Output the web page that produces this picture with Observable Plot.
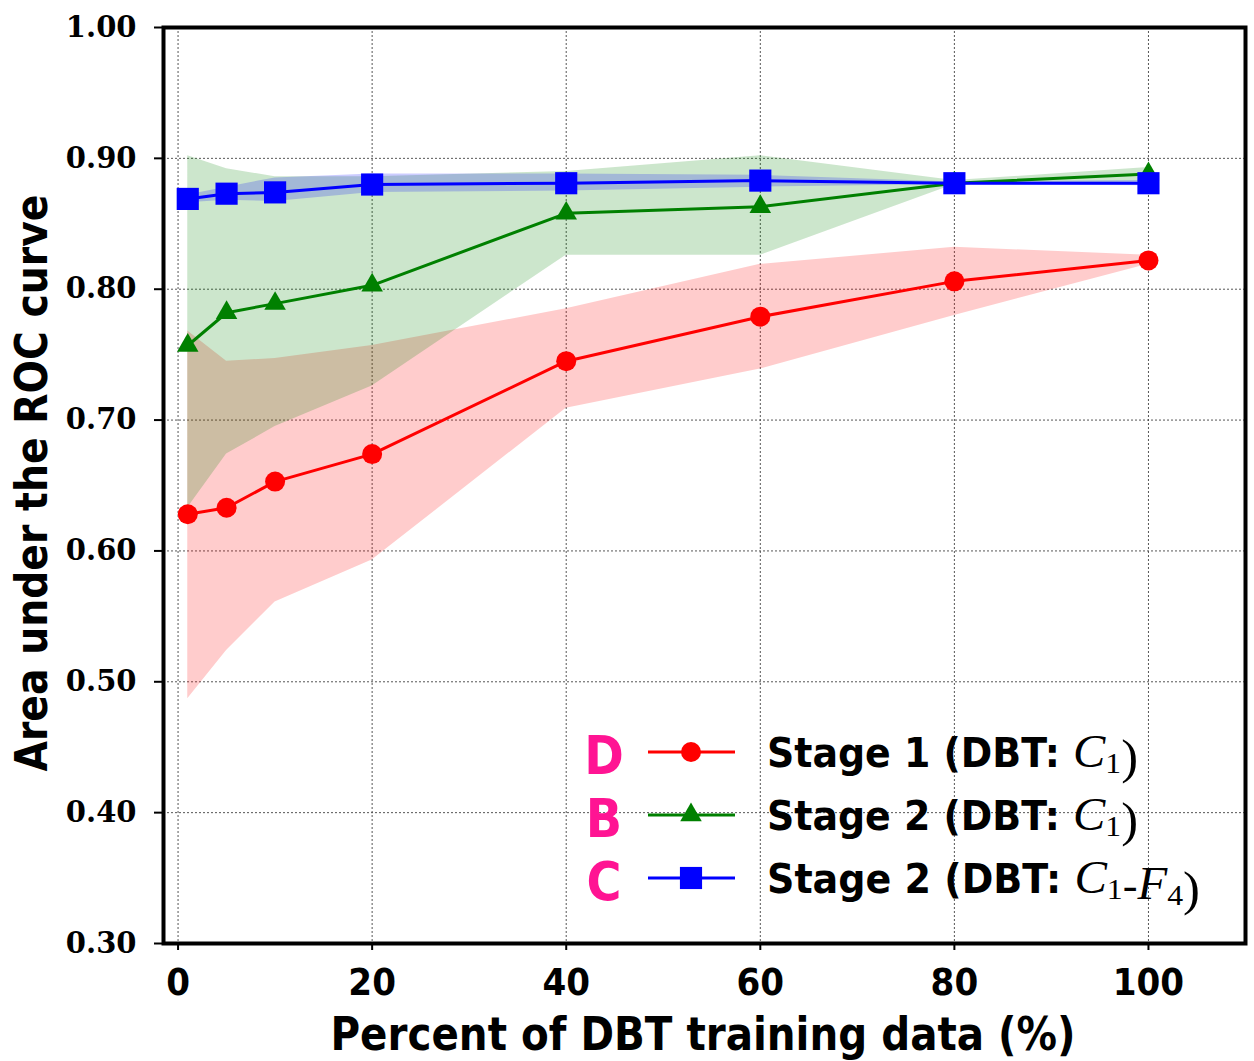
<!DOCTYPE html>
<html><head><meta charset="utf-8">
<script src="https://cdn.jsdelivr.net/npm/d3@7"></script>
<script src="https://cdn.jsdelivr.net/npm/@observablehq/plot@0.6"></script>
<style>
html,body{margin:0;padding:0;background:#fff;}
#wrap{position:relative;width:1254px;height:1061px;}
#wrap svg.ov{position:absolute;left:0;top:0;}
</style></head><body><div id="wrap"></div>
<script>
// Percent of DBT training data
const pct = [1, 5, 10, 20, 40, 60, 80, 100];
// Stage 1 (DBT: C1)
const stage1 = [0.628, 0.633, 0.653, 0.674, 0.745, 0.779, 0.806, 0.822];
const stage1Lo = [0.487, 0.524, 0.561, 0.593, 0.709, 0.739, 0.780, 0.819];
const stage1Hi = [0.768, 0.745, 0.747, 0.757, 0.785, 0.819, 0.832, 0.826];
// Stage 2 (DBT: C1)
const stage2 = [0.757, 0.782, 0.789, 0.803, 0.858, 0.863, 0.881, 0.888];
const stage2Lo = [0.633, 0.674, 0.695, 0.726, 0.826, 0.826, 0.880, 0.882];
const stage2Hi = [0.902, 0.892, 0.886, 0.886, 0.890, 0.902, 0.883, 0.893];
// Stage 2 (DBT: C1-F4)
const stage2F = [0.869, 0.873, 0.874, 0.880, 0.881, 0.883, 0.881, 0.881];
const stage2FLo = [0.866, 0.868, 0.867, 0.874, 0.875, 0.878, 0.880, 0.879];
const stage2FHi = [0.872, 0.878, 0.885, 0.888, 0.888, 0.887, 0.882, 0.883];

const xTicks = [0, 20, 40, 60, 80, 100];
const yTicks = [0.3, 0.4, 0.5, 0.6, 0.7, 0.8, 0.9, 1.0];
const seriesLetters = ["D", "B", "C"];
const seriesColors = ["#ff0000", "#008000", "#0000ff"];
const seriesSymbols = ["circle", "triangle", "square"];
const xLabel = "Percent of DBT training data (%)";
const yLabel = "Area under the ROC curve";

const seriesVals = [[stage1, stage1Lo, stage1Hi], [stage2, stage2Lo, stage2Hi], [stage2F, stage2FLo, stage2FHi]];
const rows = [];
seriesVals.forEach(([v, lo, hi], s) => pct.forEach((p, j) => rows.push({s, x: p, y: v[j], lo: lo[j], hi: hi[j]})));

const marks = [
  Plot.gridX(xTicks, {stroke: "#444", strokeOpacity: 0.9, strokeWidth: 1, strokeDasharray: "2,2"}),
  Plot.gridY(yTicks, {stroke: "#444", strokeOpacity: 0.9, strokeWidth: 1, strokeDasharray: "2,2"})
];
[0, 1, 2].forEach(s => {
  marks.push(Plot.areaY(rows.filter(d => d.s === s), {x: "x", y1: "lo", y2: "hi", fill: seriesColors[s], fillOpacity: 0.2}));
});
[0, 1, 2].forEach(s => {
  const data = rows.filter(d => d.s === s);
  marks.push(Plot.line(data, {x: "x", y: "y", stroke: seriesColors[s], strokeWidth: 3}));
  const r = s === 0 ? 10 : s === 1 ? 8 : 12.5;
  marks.push(Plot.dot(data, {x: "x", y: "y", symbol: seriesSymbols[s], fill: seriesColors[s], r}));
});
marks.push(
  Plot.axisX(xTicks, {tickSize: 7, tickPadding: 18, fontSize: 38, fontFamily: "DejaVu Sans Condensed", fontWeight: "bold", strokeWidth: 2, tickFormat: d => String(d), label: null}),
  Plot.axisY(yTicks, {tickSize: 9, tickPadding: 18, fontSize: 29, fontFamily: "DejaVu Serif", fontWeight: "bold", strokeWidth: 2, tickFormat: d => d.toFixed(2), label: null}),
  Plot.frame({stroke: "black", strokeWidth: 4})
);

const chart = Plot.plot({
  width: 1254, height: 1061,
  marginLeft: 163, marginRight: 9, marginTop: 27, marginBottom: 118,
  x: {domain: [-1.5, 110]},
  y: {domain: [0.3, 1.0]},
  style: {background: "white", color: "black"},
  marks
});
const wrap = document.getElementById("wrap");
wrap.appendChild(chart);

// overlay: axis titles and legend
const ov = d3.select(wrap).append("svg").attr("class", "ov").attr("width", 1254).attr("height", 1061);
ov.append("text").attr("x", 703).attr("y", 1050).attr("text-anchor", "middle")
  .attr("font-family", "DejaVu Sans Condensed").attr("font-weight", "bold").attr("font-size", 47)
  .attr("textLength", 745).attr("lengthAdjust", "spacingAndGlyphs").text(xLabel);
ov.append("text").attr("transform", "translate(47,483) rotate(-90)").attr("text-anchor", "middle")
  .attr("font-family", "DejaVu Sans Condensed").attr("font-weight", "bold").attr("font-size", 44)
  .attr("textLength", 577).attr("lengthAdjust", "spacingAndGlyphs").text(yLabel);

const legendRows = [
  {pre: "Stage 1 (DBT: ", math: [["C", "1"]], len: 371},
  {pre: "Stage 2 (DBT: ", math: [["C", "1"]], len: 371},
  {pre: "Stage 2 (DBT: ", math: [["C", "1"], ["-", null], ["F", "4"]], len: 433}
];
legendRows.forEach((row, i) => {
  const cy = 752 + i * 63;
  const g = ov.append("g");
  g.append("text").attr("x", 604).attr("y", cy + 22).attr("text-anchor", "middle")
    .attr("font-family", "DejaVu Sans Condensed").attr("font-weight", "bold").attr("font-size", 53)
    .attr("fill", "#ff1493").text(seriesLetters[i]);
  g.append("line").attr("x1", 648).attr("x2", 735).attr("y1", cy).attr("y2", cy)
    .attr("stroke", seriesColors[i]).attr("stroke-width", 3);
  const r = i === 0 ? 10 : i === 1 ? 8 : 12.5;
  g.append("path").attr("transform", `translate(691,${cy})`)
    .attr("d", d3.symbol(i === 0 ? d3.symbolCircle : i === 1 ? d3.symbolTriangle : d3.symbolSquare, r * r * Math.PI)())
    .attr("fill", seriesColors[i]);
  const t = g.append("text").attr("x", 767).attr("y", cy + 15)
    .attr("font-family", "DejaVu Sans Condensed").attr("font-weight", "600").attr("font-size", 40)
    .attr("textLength", row.len).attr("lengthAdjust", "spacingAndGlyphs");
  t.append("tspan").text(row.pre);
  row.math.forEach(([base, sub]) => {
    if (base === "-") { t.append("tspan").attr("font-family", "Liberation Serif").attr("font-weight", "normal").attr("font-size", 42).text("-"); return; }
    t.append("tspan").attr("font-family", "Liberation Serif").attr("font-style", "italic").attr("font-weight", "normal").attr("font-size", 46).text(base);
    t.append("tspan").attr("font-family", "Liberation Serif").attr("font-weight", "normal").attr("font-size", 30).attr("dy", 6).text(sub);
    t.append("tspan").attr("dy", -6).text("");
  });
  t.append("tspan").attr("font-weight", "normal").attr("font-family", "Liberation Serif").attr("font-size", 48).text(")");
});
</script></body></html>
